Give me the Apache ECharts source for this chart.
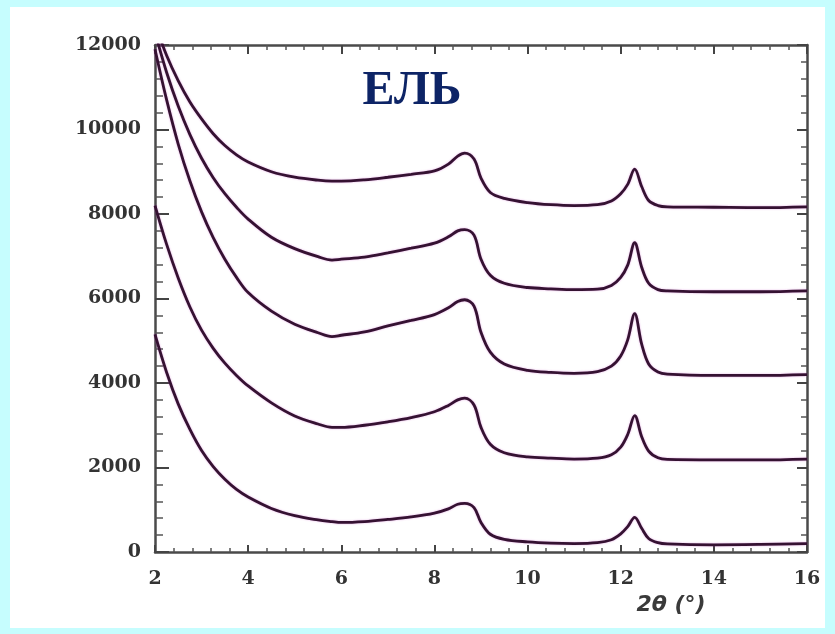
<!DOCTYPE html>
<html>
<head>
<meta charset="utf-8">
<script src="https://cdn.jsdelivr.net/npm/echarts@6/dist/echarts.min.js"></script>
<style>
  html, body { margin: 0; padding: 0; background: #c6fdfe; }
  #chart { width: 835px; height: 634px; }
</style>
</head>
<body>
<div id="chart"></div>
<script>
// 2θ positions shared by all five patterns
const twoTheta = [2.0, 2.25, 2.5, 2.75, 3.0, 3.25, 3.5, 3.75, 4.0, 4.5, 5.0, 5.5, 5.8, 6.0, 6.5, 7.0, 7.5, 8.0, 8.3, 8.5, 8.65, 8.85, 9.0, 9.2, 9.5, 10.0, 10.5, 11.0, 11.5, 11.8, 12.0, 12.15, 12.3, 12.45, 12.6, 12.8, 13.0, 14.0, 15.0, 16.0];

// intensities, top pattern first (each shifted by 2000)
const curve1 = [12500, 11750, 11150, 10650, 10250, 9900, 9620, 9400, 9230, 9000, 8870, 8800, 8780, 8780, 8810, 8870, 8940, 9020, 9180, 9370, 9440, 9300, 8850, 8510, 8370, 8270, 8220, 8200, 8220, 8310, 8480, 8700, 9060, 8650, 8320, 8200, 8170, 8160, 8150, 8170];
const curve2 = [12300, 11350, 10550, 9880, 9320, 8860, 8480, 8160, 7880, 7450, 7180, 6990, 6910, 6930, 6980, 7080, 7190, 7310, 7460, 7600, 7630, 7500, 6930, 6550, 6360, 6260, 6230, 6210, 6220, 6310, 6500, 6790, 7320, 6740, 6360, 6210, 6180, 6160, 6160, 6180];
const curve3 = [11900, 10700, 9650, 8780, 8050, 7440, 6930, 6500, 6140, 5700, 5390, 5190, 5100, 5130, 5210, 5350, 5480, 5620, 5780, 5930, 5970, 5820, 5200, 4730, 4450, 4300, 4250, 4230, 4270, 4400, 4640, 5020, 5640, 4920, 4450, 4260, 4210, 4180, 4180, 4200];
const curve4 = [8200, 7280, 6480, 5800, 5250, 4820, 4470, 4180, 3930, 3530, 3220, 3030, 2950, 2950, 3000, 3080, 3180, 3320, 3470, 3600, 3640, 3480, 2950, 2550, 2350, 2250, 2220, 2200, 2220, 2300, 2480, 2780, 3230, 2730, 2390, 2230, 2190, 2180, 2180, 2200];
const curve5 = [5150, 4250, 3500, 2900, 2400, 2020, 1720, 1480, 1300, 1030, 860, 760, 720, 700, 720, 770, 830, 920, 1020, 1130, 1150, 1050, 700, 420, 300, 240, 210, 200, 220, 290, 430, 600, 820, 560, 320, 220, 190, 170, 180, 200];

const curves = [curve1, curve2, curve3, curve4, curve5];

const chart = echarts.init(document.getElementById('chart'));

const labelFont = {
    fontFamily: 'DejaVu Serif',
    fontWeight: 'bold',
    fontSize: 19,
    color: '#333'
};
const axisLine = { show: true, onZero: false, lineStyle: { color: '#4a4a4a', width: 2.5 } };

// ticks pointing into the plot box
function ticks(major, minor) {
    return {
        axisTick: { inside: true, length: major, lineStyle: { color: '#444', width: 2 } },
        minorTick: { show: true, splitNumber: 5, length: minor, lineStyle: { color: '#555', width: 1.5 } }
    };
}

const option = {
    backgroundColor: '#c6fdfe',
    animation: false,
    grid: { left: 155, right: 28, top: 45, bottom: 82 },
    graphic: [
        {
            type: 'rect',
            z: -10,
            shape: { x: 10, y: 7, width: 815, height: 621 },
            style: { fill: '#ffffff' }
        },
        {
            type: 'text',
            x: 412, y: 92,
            style: {
                text: 'ЕЛЬ',
                fontFamily: 'Liberation Serif',
                fontWeight: 'bold',
                fontSize: 48,
                fill: '#0d2466',
                align: 'center',
                verticalAlign: 'middle'
            }
        },
        {
            type: 'text',
            x: 671, y: 605,
            style: {
                text: '2θ (°)',
                fontFamily: 'DejaVu Sans',
                fontStyle: 'italic',
                fontWeight: 'bold',
                fontSize: 22,
                fill: '#3a3a3a',
                align: 'center',
                verticalAlign: 'middle'
            }
        }
    ],
    xAxis: [
        Object.assign({
            type: 'value', min: 2, max: 16, interval: 2,
            axisLine: axisLine,
            splitLine: { show: false },
            axisLabel: Object.assign({ margin: 18 }, labelFont)
        }, ticks(7, 4)),
        Object.assign({
            type: 'value', min: 2, max: 16, interval: 2, position: 'top',
            axisLine: axisLine,
            splitLine: { show: false },
            axisLabel: { show: false }
        }, ticks(9, 5))
    ],
    yAxis: [
        Object.assign({
            type: 'value', min: 0, max: 12000, interval: 2000,
            axisLine: axisLine,
            splitLine: { show: false },
            axisLabel: Object.assign({ margin: 14, formatter: v => String(v) }, labelFont)
        }, ticks(14, 8)),
        Object.assign({
            type: 'value', min: 0, max: 12000, interval: 2000, position: 'right',
            axisLine: axisLine,
            splitLine: { show: false },
            axisLabel: { show: false }
        }, ticks(10, 6))
    ],
    series: curves.map((c, i) => ({
        name: 'curve' + (i + 1),
        type: 'line',
        data: twoTheta.map((x, j) => [x, c[j]]),
        symbol: 'none',
        smooth: 0.35,
        clip: true,
        lineStyle: {
            color: '#351232',
            width: 2.8,
            shadowColor: 'rgba(190, 60, 190, 0.45)',
            shadowBlur: 2
        }
    }))
};

chart.setOption(option);
</script>
</body>
</html>
